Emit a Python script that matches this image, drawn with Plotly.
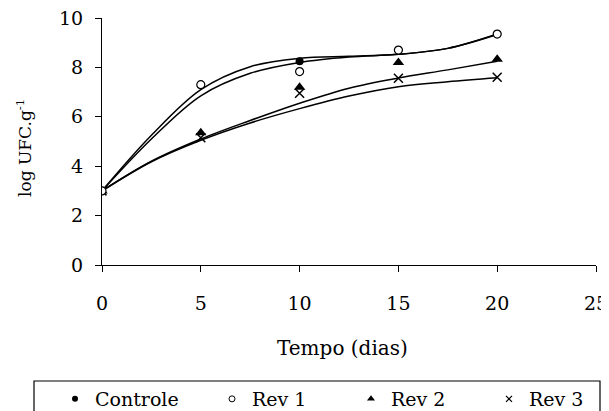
import plotly.graph_objects as go

dias = [0, 5, 10, 15, 20]
controle = [3.0, 7.3, 8.25, 8.7, 9.35]
rev1 = [3.0, 7.3, 7.83, 8.7, 9.35]
rev2 = [3.0, 5.35, 7.2, 8.2, 8.33]
rev3 = [3.0, 5.15, 6.95, 7.56, 7.6]

# trendlines
trend_x = [0, 2.5, 5, 7.5, 10, 12.5, 15, 17.5, 20]
trend_controle = [3.0, 5.25, 7.1, 8.03, 8.37, 8.45, 8.53, 8.77, 9.35]
trend_rev1 = [3.0, 5.1, 6.85, 7.76, 8.2, 8.42, 8.53, 8.77, 9.33]
trend_rev2 = [3.0, 4.2, 5.1, 5.85, 6.55, 7.16, 7.57, 7.9, 8.25]
trend_rev3 = [3.0, 4.18, 5.05, 5.75, 6.33, 6.84, 7.22, 7.42, 7.58]

names = ["Controle", "Rev 1", "Rev 2", "Rev 3"]
x_title = "Tempo (dias)"
y_title = "log UFC.g<sup>-1</sup>"

W, H = 601, 403  # page body has an 8px margin
OFF = 8

L, T, B, R = 102 - OFF, 18 - OFF, H - (265 - OFF), W - (596 - OFF)
pw, ph = W - L - R, H - T - B


def px_x(sx):  # screen x -> paper x
    return (sx - OFF - L) / pw


def px_y(sy):  # screen y -> paper y
    return (H - B - (sy - OFF)) / ph


fig = go.Figure()
for ty in [trend_controle, trend_rev1, trend_rev2, trend_rev3]:
    fig.add_trace(go.Scatter(x=trend_x, y=ty, mode="lines",
                             line=dict(color="black", width=1.5, shape="spline", smoothing=1.0),
                             showlegend=False, hoverinfo="skip"))

markers = {
    "Controle": dict(symbol="circle", size=8, color="black"),
    "Rev 1": dict(symbol="circle", size=8, color="white", line=dict(color="black", width=1.2)),
    "Rev 2": dict(symbol="triangle-up", size=10, color="black"),
    "Rev 3": dict(symbol="x-thin-open", size=9, color="black", line=dict(color="black", width=1.5)),
}
values = {"Controle": controle, "Rev 1": rev1, "Rev 2": rev2, "Rev 3": rev3}
for name in ["Controle", "Rev 3", "Rev 2", "Rev 1"]:
    fig.add_trace(go.Scatter(x=dias, y=values[name], mode="markers", name=name,
                             marker=markers[name], showlegend=False))

legend_markers = {
    "Controle": dict(symbol="circle", size=6, color="black"),
    "Rev 1": dict(symbol="circle", size=6, color="white", line=dict(color="black", width=1)),
    "Rev 2": dict(symbol="triangle-up", size=7, color="black"),
    "Rev 3": dict(symbol="x-thin-open", size=6, color="black", line=dict(color="black", width=1.2)),
}
legend_ids = ["legend", "legend2", "legend3", "legend4"]
legend_marker_px = [72, 229, 368, 506]  # screen x of each legend symbol
for name, lid in zip(names, legend_ids):
    fig.add_trace(go.Scatter(x=[None], y=[None], mode="markers", name=name,
                             marker=legend_markers[name], legend=lid, showlegend=True))

lfont = dict(family="DejaVu Serif", size=19, color="black")
legend_layout = {}
for lid, px in zip(legend_ids, legend_marker_px):
    left = px - OFF - 15 - 2
    legend_layout[lid] = dict(xref="container", yref="container", x=left / W, xanchor="left",
                              y=1 - (399 - OFF) / H, yanchor="middle", borderwidth=0,
                              bgcolor="rgba(0,0,0,0)", font=lfont, itemwidth=30)

fig.update_layout(
    width=W, height=H,
    margin=dict(l=L, r=R, t=T, b=B, autoexpand=False),
    paper_bgcolor="white", plot_bgcolor="white",
    font=dict(family="DejaVu Serif", size=19, color="black"),
    showlegend=True,
    xaxis=dict(range=[0, 25], tickvals=[0, 5, 10, 15, 20, 25], showgrid=False, zeroline=False,
               showline=True, linecolor="black", linewidth=1.2, ticks="outside", ticklen=6,
               tickcolor="black", tickfont=dict(family="DejaVu Serif", size=19),
               ticklabelstandoff=15, ticklabeloverflow="allow", automargin=False),
    yaxis=dict(range=[0, 10], tickvals=[0, 2, 4, 6, 8, 10], showgrid=False, zeroline=False,
               showline=True, linecolor="black", linewidth=1.2, ticks="outside", ticklen=6,
               tickcolor="black", tickfont=dict(family="DejaVu Serif", size=19),
               ticklabelstandoff=8, ticklabeloverflow="allow", automargin=False),
    annotations=[
        dict(text=x_title, xref="paper", yref="paper", x=px_x(342), y=px_y(348),
             xanchor="center", yanchor="middle", showarrow=False,
             font=dict(family="DejaVu Serif", size=20, color="black")),
        dict(text=y_title, xref="paper", yref="paper", x=px_x(24), y=px_y(148),
             xanchor="center", yanchor="middle", showarrow=False, textangle=-90,
             font=dict(family="DejaVu Serif", size=17, color="black")),
    ],
    shapes=[dict(type="rect", xref="paper", yref="paper",
                 x0=px_x(34), x1=px_x(600), y0=px_y(381), y1=px_y(440),
                 line=dict(color="black", width=1.2), fillcolor="rgba(0,0,0,0)")],
    **legend_layout,
)
fig.write_html("out.html")
